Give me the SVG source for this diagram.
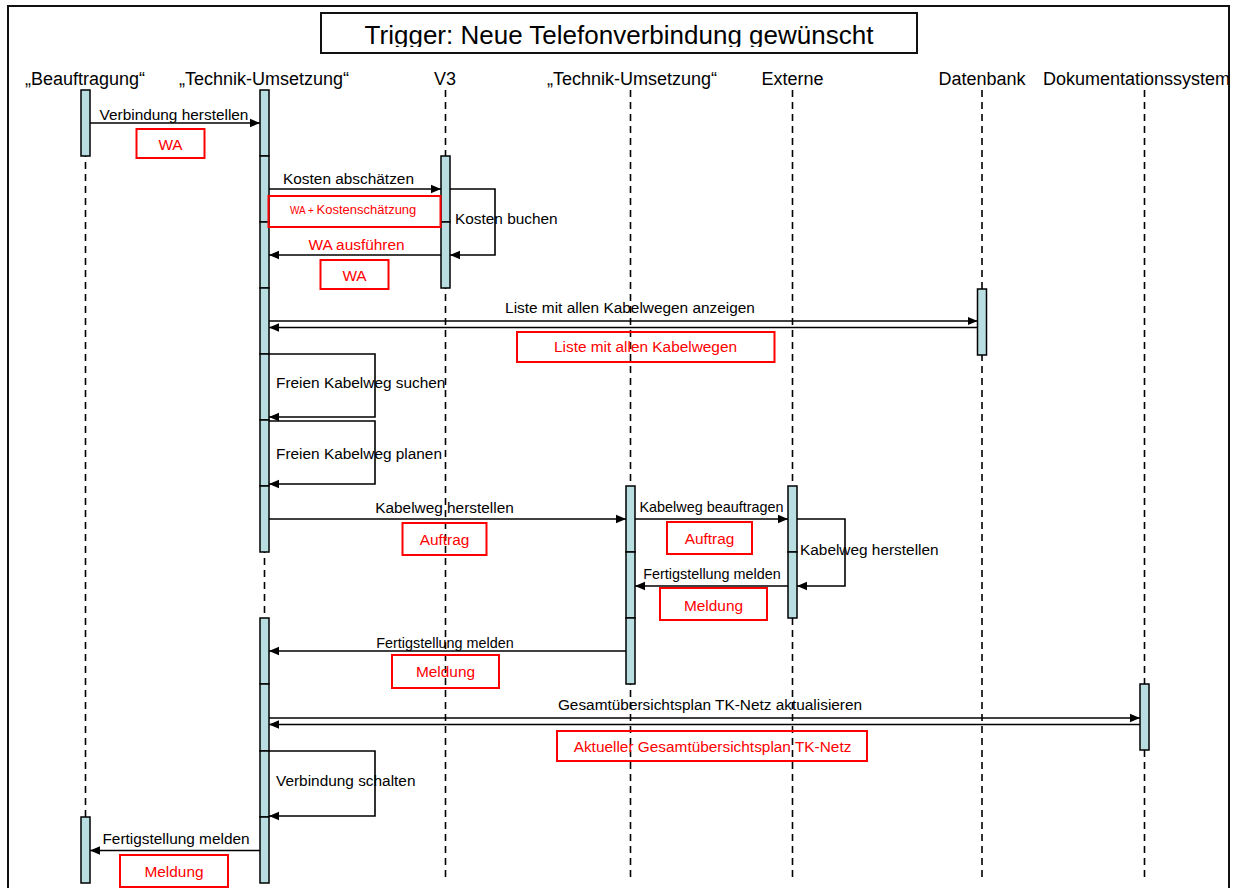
<svg xmlns="http://www.w3.org/2000/svg" width="1237" height="888" viewBox="0 0 1237 888">
  <style>
    text { font-family: "Liberation Sans", Arial, Helvetica, sans-serif; fill: #000; }
    .hdr { font-size: 18px; }
    .lbl { font-size: 15.4px; }
    .sm { font-size: 14.4px; }
    .red { fill: #ff0000; }
    .life { stroke: #000; stroke-width: 1.6; stroke-dasharray: 7 5; fill: none; }
    .act { fill: #b9dee2; stroke: #000; stroke-width: 1.5; }
    .msg { stroke: #000; stroke-width: 1.6; fill: none; }
    .arr { marker-end: url(#ah); }
    .note { fill: none; stroke: #ff0000; stroke-width: 2; }
    .frame { fill: #fff; stroke: #111; stroke-width: 2; }
  </style>
  <defs>
    <marker id="ah" markerUnits="userSpaceOnUse" markerWidth="11" markerHeight="10" refX="10" refY="5" orient="auto">
      <path d="M0,0.8 L10,5 L0,9.2 z" fill="#000"/>
    </marker>
    <clipPath id="titleClip">
      <rect x="321" y="13" width="596" height="34"/>
    </clipPath>
  </defs>

  <!-- outer frame -->
  <rect class="frame" x="8" y="6" width="1221" height="890"/>

  <!-- title -->
  <g id="title">
    <rect x="321" y="13" width="596" height="40" fill="#fff" stroke="#111" stroke-width="2"/>
    <text x="619" y="43.5" font-size="26" text-anchor="middle" clip-path="url(#titleClip)">Trigger: Neue Telefonverbindung gewünscht</text>
  </g>

  <!-- lifelines -->
  <g id="beauftragung">
    <text class="hdr" x="85" y="85" text-anchor="middle">„Beauftragung“</text>
    <line class="life" x1="85.5" y1="90" x2="85.5" y2="881"/>
    <rect class="act" x="81" y="90" width="9" height="66"/>
    <rect class="act" x="81" y="817" width="9" height="66"/>
  </g>

  <g id="technik1">
    <text class="hdr" x="264" y="85" text-anchor="middle">„Technik-Umsetzung“</text>
    <line class="life" x1="264.5" y1="90" x2="264.5" y2="881"/>
    <rect class="act" x="260" y="90" width="9" height="66"/>
    <rect class="act" x="260" y="156" width="9" height="66"/>
    <rect class="act" x="260" y="222" width="9" height="66"/>
    <rect class="act" x="260" y="288" width="9" height="66"/>
    <rect class="act" x="260" y="354" width="9" height="66"/>
    <rect class="act" x="260" y="420" width="9" height="66"/>
    <rect class="act" x="260" y="486" width="9" height="66"/>
    <rect class="act" x="260" y="618" width="9" height="66"/>
    <rect class="act" x="260" y="684" width="9" height="67"/>
    <rect class="act" x="260" y="751" width="9" height="66"/>
    <rect class="act" x="260" y="817" width="9" height="66"/>
  </g>

  <g id="v3">
    <text class="hdr" x="445" y="85" text-anchor="middle">V3</text>
    <line class="life" x1="445.5" y1="90" x2="445.5" y2="881"/>
    <rect class="act" x="441" y="156" width="9" height="66"/>
    <rect class="act" x="441" y="222" width="9" height="66"/>
  </g>

  <g id="technik2">
    <text class="hdr" x="632" y="85" text-anchor="middle">„Technik-Umsetzung“</text>
    <line class="life" x1="630.5" y1="90" x2="630.5" y2="881"/>
    <rect class="act" x="626" y="486" width="9" height="66"/>
    <rect class="act" x="626" y="552" width="9" height="66"/>
    <rect class="act" x="626" y="618" width="9" height="66"/>
  </g>

  <g id="externe">
    <text class="hdr" x="792.5" y="85" text-anchor="middle">Externe</text>
    <line class="life" x1="792.5" y1="90" x2="792.5" y2="881"/>
    <rect class="act" x="788" y="486" width="9" height="66"/>
    <rect class="act" x="788" y="552" width="9" height="66"/>
  </g>

  <g id="datenbank">
    <text class="hdr" x="982" y="85" text-anchor="middle">Datenbank</text>
    <line class="life" x1="982" y1="90" x2="982" y2="881"/>
    <rect class="act" x="977.5" y="289" width="9" height="66"/>
  </g>

  <g id="dokumentationssystem">
    <text class="hdr" x="1043" y="85">Dokumentationssystem</text>
    <line class="life" x1="1144.5" y1="90" x2="1144.5" y2="881"/>
    <rect class="act" x="1140" y="684" width="9" height="66"/>
  </g>

  <!-- messages -->
  <g id="connectors">
    <!-- Beauftragung -> Technik -->
    <line class="msg arr" x1="90" y1="123" x2="260" y2="123"/>
    <!-- Technik -> V3 -->
    <line class="msg arr" x1="269" y1="189" x2="441" y2="189"/>
    <!-- V3 self call -->
    <polyline class="msg arr" points="450,189 495,189 495,255 450,255"/>
    <!-- V3 -> Technik -->
    <line class="msg arr" x1="441" y1="255" x2="269" y2="255"/>
    <!-- Technik <-> Datenbank -->
    <line class="msg arr" x1="269" y1="321" x2="977.5" y2="321"/>
    <line class="msg arr" x1="977.5" y1="327.5" x2="269" y2="327.5"/>
    <!-- Technik self calls -->
    <polyline class="msg arr" points="269,354 375,354 375,417 269,417"/>
    <polyline class="msg arr" points="269,421 375,421 375,484 269,484"/>
    <!-- Technik -> Technik (2) -> Externe -->
    <line class="msg arr" x1="269" y1="519" x2="626" y2="519"/>
    <line class="msg arr" x1="635" y1="519" x2="788" y2="519"/>
    <!-- Externe self call -->
    <polyline class="msg arr" points="797,519 845,519 845,586 797,586"/>
    <!-- replies -->
    <line class="msg arr" x1="788" y1="586" x2="635" y2="586"/>
    <line class="msg arr" x1="626" y1="651" x2="269" y2="651"/>
    <!-- Technik <-> Dokumentationssystem -->
    <line class="msg arr" x1="269" y1="718" x2="1140" y2="718"/>
    <line class="msg arr" x1="1140" y1="724.5" x2="269" y2="724.5"/>
    <!-- Technik self call -->
    <polyline class="msg arr" points="269,751 375,751 375,816 269,816"/>
    <!-- Technik -> Beauftragung -->
    <line class="msg arr" x1="260" y1="850.5" x2="90" y2="850.5"/>
  </g>

  <!-- message labels -->
  <g id="labels">
    <text class="lbl" x="174" y="120" text-anchor="middle">Verbindung herstellen</text>
    <text class="lbl" x="348.5" y="184" text-anchor="middle">Kosten abschätzen</text>
    <text class="lbl" x="455" y="224">Kosten buchen</text>
    <text class="lbl red" x="356.5" y="250" text-anchor="middle">WA ausführen</text>
    <text class="lbl" x="630" y="313" text-anchor="middle">Liste mit allen Kabelwegen anzeigen</text>
    <text class="lbl" x="276" y="388">Freien Kabelweg suchen</text>
    <text class="lbl" x="276" y="459">Freien Kabelweg planen</text>
    <text class="lbl" x="444.5" y="513" text-anchor="middle">Kabelweg herstellen</text>
    <text class="sm" x="711.5" y="512" text-anchor="middle">Kabelweg beauftragen</text>
    <text class="lbl" x="800" y="555">Kabelweg herstellen</text>
    <text class="sm" x="712" y="579" text-anchor="middle">Fertigstellung melden</text>
    <text class="sm" x="445" y="648" text-anchor="middle">Fertigstellung melden</text>
    <text class="lbl" x="710" y="710" text-anchor="middle">Gesamtübersichtsplan TK-Netz aktualisieren</text>
    <text class="lbl" x="276" y="786">Verbindung schalten</text>
    <text class="lbl" x="176" y="844" text-anchor="middle">Fertigstellung melden</text>
  </g>

  <!-- transferred objects -->
  <g id="objects">
    <rect class="note" x="136.5" y="129" width="68" height="29"/>
    <text class="lbl red" x="170.5" y="150" text-anchor="middle">WA</text>

    <rect class="note" x="268.5" y="196" width="172" height="31"/>
    <text class="red" x="290" y="214"><tspan font-size="10">WA + </tspan><tspan font-size="13">Kostenschätzung</tspan></text>

    <rect class="note" x="320.5" y="260" width="68" height="29"/>
    <text class="lbl red" x="354.5" y="281" text-anchor="middle">WA</text>

    <rect class="note" x="517" y="332" width="257.5" height="30"/>
    <text class="lbl red" x="645.5" y="352" text-anchor="middle">Liste mit allen Kabelwegen</text>

    <rect class="note" x="402.5" y="523" width="84" height="32"/>
    <text class="lbl red" x="444.5" y="545" text-anchor="middle">Auftrag</text>

    <rect class="note" x="667" y="522" width="85" height="32"/>
    <text class="lbl red" x="709.5" y="544" text-anchor="middle">Auftrag</text>

    <rect class="note" x="660" y="588" width="107" height="32"/>
    <text class="lbl red" x="713.5" y="611" text-anchor="middle">Meldung</text>

    <rect class="note" x="392" y="655" width="107" height="33"/>
    <text class="lbl red" x="445.5" y="677" text-anchor="middle">Meldung</text>

    <rect class="note" x="557" y="731" width="310" height="30"/>
    <text class="lbl red" x="712.5" y="751.5" text-anchor="middle">Aktueller Gesamtübersichtsplan TK-Netz</text>

    <rect class="note" x="120" y="855" width="108" height="32"/>
    <text class="lbl red" x="174" y="877" text-anchor="middle">Meldung</text>
  </g>
</svg>
